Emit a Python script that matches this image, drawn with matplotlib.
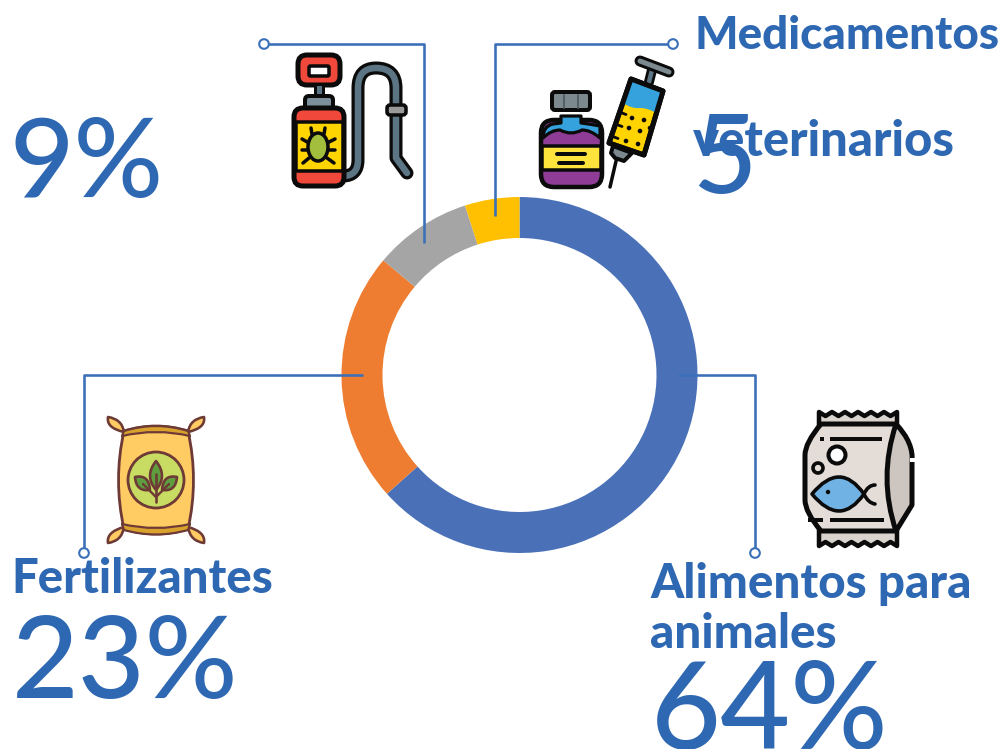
import matplotlib
matplotlib.use("Agg")
import matplotlib.pyplot as plt
from matplotlib.patches import FancyBboxPatch, Polygon, Circle, Ellipse, PathPatch
from matplotlib.path import Path

categories = ["Alimentos para animales", "Fertilizantes", "Plaguicidas", "Medicamentos veterinarios"]
values = [64, 23, 9, 5]
slice_colors = ["#4A71B8", "#EE7D31", "#A5A5A5", "#FEC000"]
pct_labels = ["64%", "23%", "9%", "5"]

W, H = 1003, 749
INK = "#2E68B2"
LINE = "#3A70B8"
K = "#0B0B0B"

fig = plt.figure(figsize=(W / 100, H / 100), dpi=100)
fig.patch.set_facecolor("white")

R = 178
cx, cy = 519.5, 375
axp = fig.add_axes([(cx - R) / W, 1 - (cy + R) / H, 2 * R / W, 2 * R / H])
axp.pie(values, colors=slice_colors, startangle=90, counterclock=False, radius=1,
        wedgeprops=dict(width=41 / 178, linewidth=0))
axp.set_xlim(-1, 1); axp.set_ylim(-1, 1); axp.set_aspect("equal")

ax = fig.add_axes([0, 0, 1, 1], zorder=5)
ax.set_xlim(0, W); ax.set_ylim(H, 0); ax.axis("off"); ax.patch.set_alpha(0)

px = 0.72


def rrect(x0, y0, x1, y1, r, fc, ec=K, lw=3.5, z=6):
    p = FancyBboxPatch((x0 + r, y0 + r), x1 - x0 - 2 * r, y1 - y0 - 2 * r,
                       boxstyle=f"round,pad={r},rounding_size={r}", fc=fc, ec=ec,
                       lw=lw * px, zorder=z)
    ax.add_patch(p)


def poly(pts, fc, ec=K, lw=3.5, z=6):
    ax.add_patch(Polygon(pts, closed=True, fc=fc, ec=ec if ec else "none",
                         lw=(lw * px if ec else 0), joinstyle="round", zorder=z))


def line(pts, c=K, lw=3.5, z=7, cap="round"):
    xs, ys = zip(*pts)
    ax.plot(xs, ys, color=c, lw=lw * px, solid_capstyle=cap, solid_joinstyle="round", zorder=z)


def curve(verts, codes, fc="none", ec=K, lw=3.5, z=6):
    ax.add_patch(PathPatch(Path(verts, codes), fc=fc, ec=ec if ec else "none",
                           lw=(lw * px if ec else 0), joinstyle="round", capstyle="round", zorder=z))


M, L, Q, Z = Path.MOVETO, Path.LINETO, Path.CURVE3, Path.CLOSEPOLY


def leader(pts, dot):
    line(pts, c=LINE, lw=2.6, z=8, cap="butt")
    ax.add_patch(Circle(dot, 4.8, fc="white", ec=LINE, lw=1.5, zorder=9))


leader([(264, 44), (424, 44), (424, 243)], (264, 44))
leader([(673, 44), (495, 44), (495, 216)], (673, 44))
leader([(363, 375), (84, 375), (84, 553)], (84, 553))
leader([(678, 375), (755, 375), (755, 553)], (755, 553))

# --- Sprayer icon ---
hose_v = [(343, 176), (358, 176), (358, 160), (358, 88), (358, 68), (376, 68), (396, 68),
          (396, 88), (396, 158), (407, 173)]
hose_c = [M, Q, Q, L, Q, Q, Q, Q, L, L]
curve(hose_v, hose_c, ec=K, lw=13, z=5)
curve(hose_v, hose_c, ec="#5C7585", lw=6.5, z=6)
rrect(387, 105, 406, 115, 3, "#9A9A9A", lw=3.5, z=7)
rrect(298, 55, 340, 85, 9, "#F0483A", lw=5)
rrect(309, 66, 329, 76, 1.5, "white", lw=3.5, z=7)
poly([(315, 84), (323, 84), (323, 98), (315, 98)], "#5C7585", lw=3)
rrect(305, 96, 333, 109, 4, "#7C909C", lw=4)
rrect(294, 108, 344, 186, 9, "#F0483A", lw=5)
poly([(296, 122), (343, 122), (343, 171), (296, 171)], "#FFD400", lw=3.5, z=7)
for a, b in [((312, 134), (311, 128)), ((324, 134), (325, 128)),
             ((309, 143), (302, 139)), ((327, 143), (335, 139)),
             ((307, 150), (302, 150)), ((329, 150), (335, 150)),
             ((309, 158), (303, 163)), ((327, 158), (334, 163))]:
    line([a, b], lw=3.5, z=8)
ax.add_patch(Ellipse((318, 147), 20, 28, fc="#A3BE3C", ec=K, lw=3.5 * px, zorder=9))

# --- Vial and syringe icon ---
rrect(541, 120, 602, 187, 13, "#8E3C96", lw=4.5)
curve([(543, 138), (543, 126), (553, 124), (561, 123), (561, 116), (581, 116), (581, 123),
       (590, 124), (600, 126), (600, 138), (591, 130), (582, 130), (571, 136), (560, 130),
       (551, 130), (543, 138), (543, 138)],
      [M, Q, Q, L, L, L, L, Q, Q, L, Q, Q, Q, Q, Q, Q, Z], fc="#35A2DD", ec=K, lw=3.2, z=7)
poly([(542, 146), (601, 146), (601, 170), (542, 170)], "#FFE33D", lw=3.5, z=7)
line([(557, 154), (585, 154)], lw=4, z=8)
line([(559, 163), (583, 163)], lw=4, z=8)
rrect(552, 92, 590, 110, 3, "#7C8A90", lw=4, z=8)
line([(564, 95), (564, 108)], c="#555F66", lw=2, z=9)
line([(578, 95), (578, 108)], c="#555F66", lw=2, z=9)

line([(617, 157), (610, 187)], lw=3.5, z=6)
poly([(613, 146), (632, 153), (624, 161), (615, 158), (611, 153)], "#7C8A90", lw=4, z=6)
line([(653, 66), (649, 82)], c=K, lw=10, z=6)
line([(653, 66), (649, 82)], c="#5C7585", lw=4.5, z=7)
line([(640, 61), (669, 72)], c=K, lw=11, z=7)
line([(640, 61), (669, 72)], c="#7C8A90", lw=5, z=8)
poly([(631, 79), (663, 91), (644, 155), (609, 143)], "#FFD400", lw=5, z=7)
curve([(631, 79), (663, 91), (656, 113), (648, 108), (640, 108), (632, 109), (623, 103), (631, 79)],
      [M, L, L, Q, Q, Q, Q, Z], fc="#35A2DD", ec=None, z=8)
ax.add_patch(Polygon([(631, 79), (663, 91), (644, 155), (609, 143)], closed=True, fc="none", ec=K,
                     lw=5 * px, joinstyle="round", zorder=9))
for d in [(632, 118), (644, 120), (629, 128), (640, 131), (638, 144), (626, 141), (650, 128)]:
    ax.add_patch(Circle(d, 2.3, fc=K, ec="none", zorder=9))
for y0, x0 in [(113, 622), (125, 618), (137, 614)]:
    line([(x0, y0), (x0 + 4, y0 + 1.5)], lw=2.8, z=9)

# --- Fertilizer sack icon ---
BR = "#6E3A36"
for tip, base, c1, c2 in [((108, 417), (124, 432), (106, 428), (122, 419)),
                          ((204, 417), (188, 432), (206, 428), (190, 419)),
                          ((108, 543), (124, 527), (106, 532), (122, 541)),
                          ((204, 543), (188, 527), (206, 532), (190, 541))]:
    curve([tip, c1, base, c2, tip, tip], [M, Q, Q, Q, Q, Z], fc="#FFCB63", ec=BR, lw=2.6, z=5)
curve([(124, 431), (156, 421), (188, 431), (199, 480), (188, 529), (156, 539), (124, 529),
       (113, 480), (124, 431), (124, 431)],
      [M, Q, Q, Q, Q, Q, Q, Q, Q, Z], fc="#FFCB63", ec=BR, lw=2.8)
curve([(124, 431), (156, 421), (188, 431), (190, 436), (156, 428), (122, 436), (124, 431)],
      [M, Q, Q, L, Q, Q, Z], fc="#D9A22D", ec=BR, lw=2.2)
curve([(122, 524), (156, 532), (190, 524), (188, 530), (156, 539), (124, 530), (122, 524)],
      [M, Q, Q, L, Q, Q, Z], fc="#D9A22D", ec=BR, lw=2.2)
ax.add_patch(Circle((156, 480), 28, fc="#C8DC64", ec=BR, lw=2.8 * px, zorder=7))
curve([(156, 461), (144, 476), (156, 490), (168, 476), (156, 461), (156, 461)],
      [M, Q, Q, Q, Q, Z], fc="#5E9E3E", ec=BR, lw=2.6, z=8)
curve([(135, 477), (136, 492), (150, 490), (149, 474), (135, 477), (135, 477)],
      [M, Q, Q, Q, Q, Z], fc="#5E9E3E", ec=BR, lw=2.6, z=8)
curve([(177, 477), (176, 492), (162, 490), (163, 474), (177, 477), (177, 477)],
      [M, Q, Q, Q, Q, Z], fc="#5E9E3E", ec=BR, lw=2.6, z=8)
line([(156, 474), (156, 502)], c=BR, lw=2.6, z=9)
line([(143, 484), (156, 497)], c=BR, lw=2.4, z=9)
line([(169, 484), (156, 497)], c=BR, lw=2.4, z=9)

# --- Fish-feed bag icon ---
zig_top = [(819 + i * 6.5, 412 if i % 2 == 0 else 416) for i in range(13)]
zig_bot = [(897 - i * 6.5, 546 if i % 2 == 0 else 542) for i in range(13)]
poly(zig_top + [(897, 430), (819, 430)], "#DAD4CE", lw=4.5, z=5)
poly(zig_bot + [(819, 530), (897, 530)], "#DAD4CE", lw=4.5, z=5)
curve([(821, 424), (896, 424), (896, 531), (821, 531), (805, 512), (805, 500), (805, 455),
       (805, 443), (821, 424), (821, 424)],
      [M, L, L, L, Q, Q, L, Q, Q, Z], fc="#E3DCD7", lw=5, z=6)
curve([(896, 424), (914, 443), (912, 462), (912, 505), (896, 531), (878, 478), (896, 424), (896, 424)],
      [M, Q, Q, L, L, Q, Q, Z], fc="#CDC6C0", lw=5, z=7)
line([(910, 460), (915, 460)], c="white", lw=4, z=8, cap="butt")
line([(830, 439), (882, 439)], lw=4, z=7, cap="butt")
line([(820, 439), (824, 439)], lw=4, z=7, cap="butt")
line([(830, 520), (884, 520)], lw=4, z=7, cap="butt")
line([(808, 520), (823, 520)], lw=4, z=7, cap="butt")
ax.add_patch(Circle((837, 455), 8.5, fc="white", ec=K, lw=4 * px, zorder=8))
ax.add_patch(Circle((818, 468), 5, fc="#E3DCD7", ec=K, lw=3.6 * px, zorder=8))
curve([(812, 494), (840, 460), (864, 494), (840, 528), (812, 494), (812, 494)],
      [M, Q, Q, Q, Q, Z], fc="#6FB2E3", ec=K, lw=3.6, z=8)
curve([(864, 494), (868, 485), (875, 485)], [M, Q, Q], lw=3.6, z=8)
curve([(864, 494), (868, 503), (875, 504)], [M, Q, Q], lw=3.6, z=8)
ax.add_patch(Circle((828, 492), 2.2, fc=K, ec="none", zorder=9))

# --- Text ---
B = dict(family="Lato", weight="black", color=INK, va="baseline", ha="left", zorder=10)
N = dict(family="Lato", weight="medium", color=INK, va="baseline", ha="left", zorder=10)
ax.text(695, 49, "Medicamentos", fontsize=33, **B)
ax.text(693, 156, "veterinarios", fontsize=35.3, **B)
ax.text(11, 593, "Fertilizantes", fontsize=34, **B)
ax.text(650, 598, "Alimentos para", fontsize=34.2, **B)
ax.text(650, 648, "animales", fontsize=34.2, **B)
ax.text(10, 197, pct_labels[2], fontsize=80, **N)
ax.text(692, 193, pct_labels[3], fontsize=80, **N)
ax.text(12, 698, pct_labels[1], fontsize=83, **N)
ax.text(651, 749, pct_labels[0], fontsize=87, **N)

fig.savefig("out.png", dpi=100)
